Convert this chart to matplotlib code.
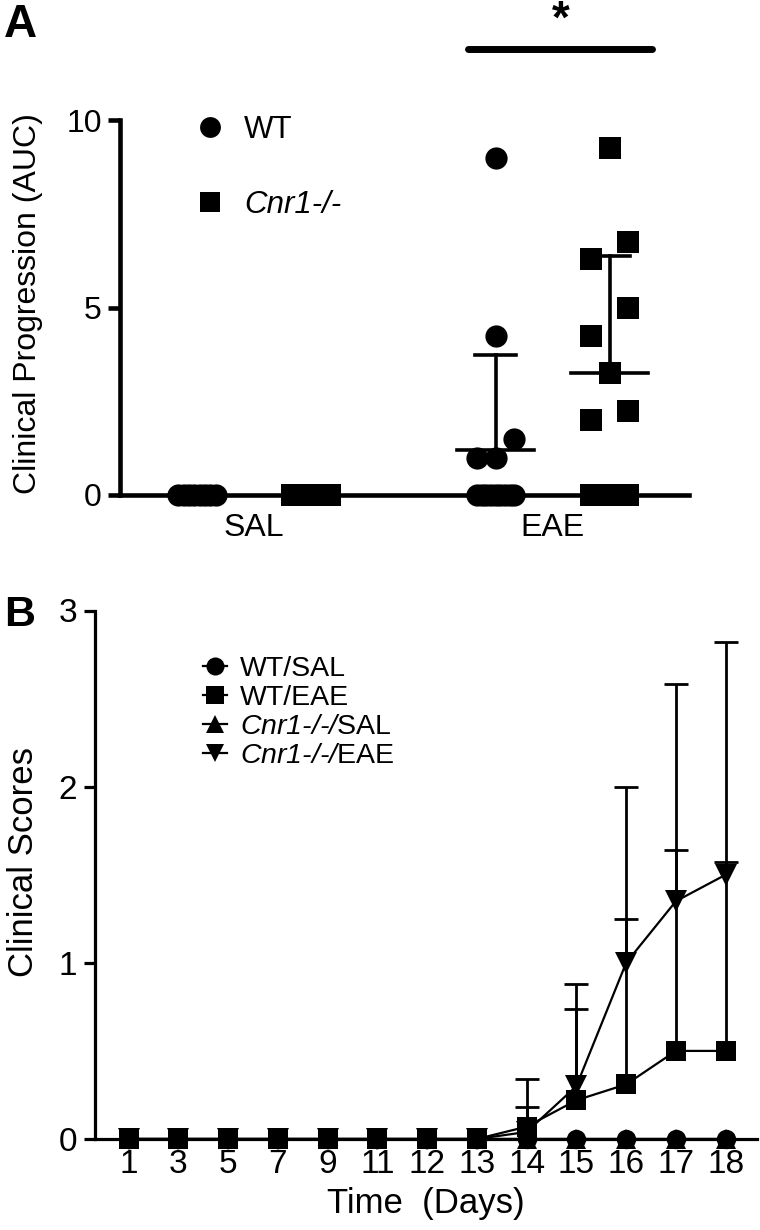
import numpy as np
import matplotlib
matplotlib.use("Agg")
import matplotlib.pyplot as plt
from matplotlib.lines import Line2D

plt.rcParams['font.family'] = ['Liberation Sans', 'DejaVu Sans']
# mathtext roman set to italic so "Cnr1" (digit included) can be italic inside a legend label
plt.rcParams['mathtext.fontset'] = 'custom'
plt.rcParams['mathtext.rm'] = 'Liberation Sans:italic'
plt.rcParams['mathtext.it'] = 'Liberation Sans:italic'

# ---- Panel A : AUC of clinical progression ----
treatments = ["SAL", "EAE"]
genotypes = ["WT", "Cnr1-/-"]
wt_sal = [0, 0, 0, 0, 0, 0, 0, 0]
cnr1_sal = [0, 0, 0, 0, 0, 0, 0, 0]
wt_eae = [9.0, 4.25, 1.5, 1.0, 1.0, 0, 0, 0, 0, 0, 0, 0, 0, 0]
cnr1_eae = [9.25, 6.75, 6.3, 5.0, 4.25, 3.25, 2.25, 2.0, 0, 0, 0, 0]

# ---- Panel B : daily clinical scores ----
days = ["1", "3", "5", "7", "9", "11", "12", "13", "14", "15", "16", "17", "18"]
wt_sal_score = [0, 0, 0, 0, 0, 0, 0, 0, 0, 0, 0, 0, 0]
wt_eae_score = [0, 0, 0, 0, 0, 0, 0, 0, 0.07, 0.22, 0.31, 0.5, 0.5]
wt_eae_sd = [0, 0, 0, 0, 0, 0, 0, 0, 0.11, 0.52, 0.94, 1.14, 1.075]
cnr1_sal_score = [0, 0, 0, 0, 0, 0, 0, 0, 0, 0, 0, 0, 0]
cnr1_eae_score = [0, 0, 0, 0, 0, 0, 0, 0, 0.04, 0.30, 1.0, 1.35, 1.5]
cnr1_eae_sd = [0, 0, 0, 0, 0, 0, 0, 0, 0.30, 0.58, 1.0, 1.23, 1.32]


#Spread points of one column GraphPad-style : rows of close values are spread side by side
def swarm_offsets(values, step, row_height):
	order = np.argsort(values, kind="stable")
	vals = np.asarray(values, dtype=float)
	offsets = np.zeros(len(vals))
	rows = []
	for i in order:
		if rows and vals[i] - vals[rows[-1][0]] < row_height:
			rows[-1].append(i)
		else:
			rows.append([i])
	for row in rows:
		if len(row) > 1:
			offsets[row] = np.linspace(-step, step, len(row))
	return offsets


fig = plt.figure(figsize=(7.6, 12.3), dpi=100)
W, H = 760.0, 1230.0

# ================= Panel A =================
axA = fig.add_axes([120 / W, 1 - 495 / H, (689 - 120) / W, (495 - 120) / H])
group_gap = 2.62
columns = [(wt_sal, "o"), (cnr1_sal, "s"), (wt_eae, "o"), (cnr1_eae, "s")]
positions = []
for g in range(len(treatments)):
	for k in range(len(genotypes)):
		positions.append(g * group_gap + k)

for (vals, mk), xpos in zip(columns, positions):
	vals = np.asarray(vals, dtype=float)
	offs = swarm_offsets(vals, 0.165, 0.8)
	axA.plot(xpos + offs, vals, ls="none", marker=mk, ms=16, color="black",
		markeredgewidth=0, clip_on=False, zorder=5)
	if vals.max() > 0:
		mean = vals.mean()
		sd = vals.std(ddof=1)
		axA.plot([xpos - 0.34, xpos + 0.34], [mean, mean], color="black", lw=2.6, zorder=4)
		axA.plot([xpos, xpos], [mean, mean + sd], color="black", lw=2.6, zorder=4)
		axA.plot([xpos - 0.18, xpos + 0.18], [mean + sd, mean + sd], color="black", lw=2.6, zorder=4)

axA.set_xlim(-0.675, 4.316)
axA.set_ylim(0, 10)
axA.set_yticks([0, 5, 10])
axA.set_xticks([g * group_gap + 0.5 for g in range(len(treatments))])
axA.set_xticklabels(treatments)
axA.tick_params(axis="x", length=0, pad=13, labelsize=23)
axA.tick_params(axis="y", length=9, width=3.3, pad=4, labelsize=23)
for side in ["top", "right"]:
	axA.spines[side].set_visible(False)
for side in ["left", "bottom"]:
	axA.spines[side].set_linewidth(3.3)
axA.set_ylabel("Clinical Progression (AUC)", fontsize=23)
axA.yaxis.set_label_coords(-0.135, 0.51)

# significance bar
axA.plot([positions[2] - 0.24, positions[3] + 0.37], [11.9, 11.9], color="black",
	lw=5, solid_capstyle="round", clip_on=False)
axA.text((positions[2] + positions[3]) / 2 + 0.07, 12.05, "*", ha="center", va="bottom",
	fontsize=33, fontweight="bold")

legA = [Line2D([], [], ls="none", marker="o", ms=15, color="black", markeredgewidth=0),
	Line2D([], [], ls="none", marker="s", ms=14.5, color="black", markeredgewidth=0)]
lA = fig.legend(legA, ["WT", "Cnr1-/-"], loc="upper left", bbox_to_anchor=(195 / W, 1 - 115 / H),
	frameon=False, fontsize=22.5, handlelength=0.95, handletextpad=0.62, labelspacing=1.45,
	borderpad=0, borderaxespad=0)
lA.get_texts()[1].set_fontstyle("italic")

fig.text(4 / W, 1 - 3 / H, "A", fontsize=33, fontweight="bold", ha="left", va="top")

# ================= Panel B =================
axB = fig.add_axes([95 / W, 1 - 1139 / H, (757 - 95) / W, (1139 - 610.5) / H])
x = np.arange(len(days))

axB.vlines(x, wt_eae_score, np.add(wt_eae_score, wt_eae_sd), color="black", lw=2, zorder=3)
axB.plot(x, np.add(wt_eae_score, wt_eae_sd), ls="none", marker="_", ms=17, mew=2, color="black", zorder=3)
axB.vlines(x, cnr1_eae_score, np.add(cnr1_eae_score, cnr1_eae_sd), color="black", lw=2, zorder=3)
axB.plot(x, np.add(cnr1_eae_score, cnr1_eae_sd), ls="none", marker="_", ms=17, mew=2, color="black", zorder=3)

series = [(wt_sal_score, "o", 14, "WT/SAL"), (cnr1_sal_score, "^", 15, "Cnr1-/-/SAL"),
	(cnr1_eae_score, "v", 15.5, "Cnr1-/-/EAE"), (wt_eae_score, "s", 14.5, "WT/EAE")]
for vals, mk, size, lab in series:
	axB.plot(x, vals, color="black", lw=1.6, marker=mk, ms=size, markeredgewidth=0,
		clip_on=False, zorder=5)

axB.set_xlim(-0.675, 12.63)
axB.set_ylim(0, 3)
axB.set_xticks(x)
axB.set_xticklabels(days)
axB.set_yticks([0, 1, 2, 3])
axB.tick_params(axis="x", length=0, pad=7, labelsize=24)
axB.tick_params(axis="y", length=8, width=2.3, pad=5, labelsize=24)
for side in ["top", "right"]:
	axB.spines[side].set_visible(False)
for side in ["left", "bottom"]:
	axB.spines[side].set_linewidth(2.3)
axB.set_xlabel("Time  (Days)", fontsize=25, labelpad=5)
axB.set_ylabel("Clinical Scores", fontsize=25)
axB.yaxis.set_label_coords(-0.083, 0.524)

legB = [Line2D([], [], color="black", lw=1.6, marker="o", ms=13, markeredgewidth=0),
	Line2D([], [], color="black", lw=1.6, marker="s", ms=12.5, markeredgewidth=0),
	Line2D([], [], color="black", lw=1.6, marker="^", ms=13.5, markeredgewidth=0),
	Line2D([], [], color="black", lw=1.6, marker="v", ms=13.5, markeredgewidth=0)]
labelsB = ["WT/SAL", "WT/EAE", r"$\mathrm{Cnr1\text{-}/\text{-}/}$SAL", r"$\mathrm{Cnr1\text{-}/\text{-}/}$EAE"]
lB = fig.legend(legB, labelsB, loc="upper left",
	bbox_to_anchor=(203 / W, 1 - 656 / H), frameon=False, fontsize=20.5, handlelength=0.85,
	handletextpad=0.45, labelspacing=0.1, borderpad=0, borderaxespad=0)

fig.text(4 / W, 1 - 595 / H, "B", fontsize=31, fontweight="bold", ha="left", va="top")

fig.savefig("out.png", dpi=100)
